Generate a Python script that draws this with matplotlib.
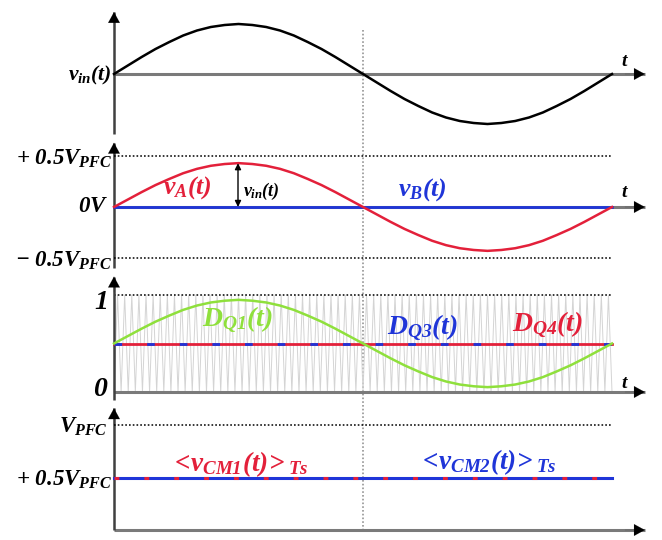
import numpy as np
import matplotlib
matplotlib.use("Agg")
import matplotlib.pyplot as plt
from matplotlib.lines import Line2D
from matplotlib.transforms import blended_transform_factory

# ------------------------------------------------------------
# Data (one line period, 10 degree steps)
# ------------------------------------------------------------
phase_deg = [0, 10, 20, 30, 40, 50, 60, 70, 80, 90, 100, 110, 120, 130,
             140, 150, 160, 170, 180, 190, 200, 210, 220, 230, 240, 250,
             260, 270, 280, 290, 300, 310, 320, 330, 340, 350, 360]
vin_shape = [0.00, 0.17, 0.34, 0.50, 0.64, 0.77, 0.87, 0.94, 0.98, 1.00,
             0.98, 0.94, 0.87, 0.77, 0.64, 0.50, 0.34, 0.17, 0.00,
             -0.17, -0.34, -0.50, -0.64, -0.77, -0.87, -0.94, -0.98, -1.00,
             -0.98, -0.94, -0.87, -0.77, -0.64, -0.50, -0.34, -0.17, 0.00]

vA_amplitude = 0.43        # in units of V_PFC
dq1_amplitude = 0.45       # duty cycle swing around 0.5
duty_mid = 0.5
vcm_level = 0.5            # <v_CM>_Ts = 0.5 V_PFC
carrier_cycles = 70

RED = "#e3203a"
BLUE = "#1f35d8"
GREEN = "#8fe03c"
AXIS_GRAY = "#7a7a7a"

plt.rcParams["mathtext.fontset"] = "custom"
plt.rcParams["mathtext.it"] = "Liberation Serif:italic:bold"
plt.rcParams["mathtext.rm"] = "Liberation Serif:italic:bold"
plt.rcParams["mathtext.bf"] = "Liberation Serif:bold"
plt.rcParams["font.family"] = ["Liberation Serif", "DejaVu Serif"]
plt.rcParams["lines.scale_dashes"] = False

t = np.array(phase_deg) / 360.0
shape = np.array(vin_shape)

W, H = 662, 540
X0, PERIOD = 114, 498      # pixel of t=0 and pixels per period

fig = plt.figure(figsize=(W / 100, H / 100), dpi=100)


def panel(top_px, bottom_px, zero_px, scale_px):
    ax = fig.add_axes([0, 1 - bottom_px / H, 1, (bottom_px - top_px) / H])
    ax.set_xlim(-X0 / PERIOD, (W - X0) / PERIOD)
    ax.set_ylim((zero_px - bottom_px) / scale_px, (zero_px - top_px) / scale_px)
    ax.axis("off")
    return ax


def arrow(ax, start, end, color, lw):
    # axis line in its own colour, black filled head at the end
    ax.plot([start[0], end[0]], [start[1], end[1]], color=color, lw=lw,
            solid_capstyle="butt", clip_on=False)
    back = (end[0] - 0.04 * np.sign(end[0] - start[0]),
            end[1] - 0.16 * np.sign(end[1] - start[1]))
    ax.annotate("", xy=end, xytext=back,
                arrowprops=dict(arrowstyle="-|>,head_length=0.55,head_width=0.3",
                                color="black", lw=0.1,
                                mutation_scale=14, shrinkA=0, shrinkB=0),
                annotation_clip=False)


def label(ax, x, y, s, size, color="black", ha="center"):
    ax.text(x, y, s, fontsize=size, color=color, ha=ha, va="center",
            fontstyle="italic", fontweight="bold")


t_end = 1.066

# ============================================================
# Panel 1: v_in(t)
# ============================================================
ax1 = panel(0, 140, 74, 50)
arrow(ax1, (0, 0), (t_end, 0), AXIS_GRAY, 2.2)
arrow(ax1, (0, -1.2), (0, 1.24), "#404040", 1.8)
ax1.plot(t, shape, color="black", lw=1.8)
label(ax1, -0.006, -0.02, r"$v_{in}(t)$", 15.5, ha="right")
label(ax1, 1.026, 0.24, r"$t$", 14)

# ============================================================
# Panel 2: v_A(t), v_B(t)
# ============================================================
ax2 = panel(140, 272, 207, 102)
arrow(ax2, (0, 0), (t_end, 0), AXIS_GRAY, 2.2)
arrow(ax2, (0, -0.6), (0, 0.63), "#404040", 1.8)
for lvl in (0.5, -0.5):
    ax2.plot([0, 1], [lvl, lvl], color="black", lw=1.1, ls=(0, (1.2, 1.5)))
ax2.plot([0, 1], [0, 0], color=BLUE, lw=2.0)
ax2.plot(t, vA_amplitude * shape, color=RED, lw=1.8)
ax2.annotate("", xy=(0.249, vA_amplitude), xytext=(0.249, 0.0),
             arrowprops=dict(arrowstyle="<|-|>", color="black", lw=1.0,
                             mutation_scale=9, shrinkA=0, shrinkB=0))
label(ax2, -0.004, 0.47, r"$+\ 0.5V_{PFC}$", 16.5, ha="right")
label(ax2, -0.012, 0.0, r"$0V$", 16.5, ha="right")
label(ax2, -0.004, -0.53, r"$-\ 0.5V_{PFC}$", 16.5, ha="right")
label(ax2, 0.147, 0.19, r"$v_A(t)$", 18.5, color=RED)
label(ax2, 0.259, 0.15, r"$v_{in}(t)$", 13, ha="left")
label(ax2, 0.62, 0.17, r"$v_B(t)$", 18.5, color=BLUE)
label(ax2, 1.026, 0.14, r"$t$", 14)

# ============================================================
# Panel 3: duty cycles with PWM carrier
# ============================================================
ax3 = panel(272, 405, 392, 97)
carrier_t = np.linspace(0, 1, 2 * carrier_cycles + 1)
carrier_y = np.tile([0.0, 1.0], carrier_cycles + 1)[:len(carrier_t)]
ax3.plot(carrier_t, carrier_y, color="#d4d4d4", lw=0.7)
ax3.plot([0, 1], [1, 1], color="black", lw=1.1, ls=(0, (1.2, 1.5)))
arrow(ax3, (0, 0), (t_end, 0), AXIS_GRAY, 2.2)
arrow(ax3, (0, -0.08), (0, 1.19), "#404040", 1.8)
ax3.plot([0, 1], [duty_mid, duty_mid], color=RED, lw=2.0)
ax3.plot([0, 1], [duty_mid, duty_mid], color=BLUE, lw=2.0,
         dashes=(5.5, 18), dash_capstyle="butt")
ax3.plot(t, duty_mid + dq1_amplitude * shape, color=GREEN, lw=1.8)
label(ax3, -0.026, 0.92, "1", 20, ha="center")
label(ax3, -0.028, 0.03, "0", 20, ha="center")
label(ax3, 0.249, 0.74, r"$D_{Q1}(t)$", 20, color=GREEN)
label(ax3, 0.62, 0.66, r"$D_{Q3}(t)$", 20, color=BLUE)
label(ax3, 0.871, 0.69, r"$D_{Q4}(t)$", 20, color=RED)
label(ax3, 1.026, 0.09, r"$t$", 14)

# ============================================================
# Panel 4: common-mode voltages
# ============================================================
ax4 = panel(405, 540, 530, 105)
arrow(ax4, (0, 0), (t_end, 0), AXIS_GRAY, 2.2)
arrow(ax4, (0, 0), (0, 1.16), "#404040", 1.8)
ax4.plot([0, 1], [1, 1], color="black", lw=1.1, ls=(0, (1.2, 1.5)))
ax4.plot([0, 1], [vcm_level, vcm_level], color=BLUE, lw=2.2)
ax4.plot([0, 1], [vcm_level, vcm_level], color=RED, lw=2.2,
         dashes=(3.5, 18), dash_capstyle="butt")
label(ax4, -0.012, 0.98, r"$V_{PFC}$", 16.5, ha="right")
label(ax4, -0.004, 0.48, r"$+\ 0.5V_{PFC}$", 16.5, ha="right")
label(ax4, 0.251, 0.63, r"$<\!v_{CM1}(t)\!>_{Ts}$", 19.5, color=RED)
label(ax4, 0.749, 0.65, r"$<\!v_{CM2}(t)\!>_{Ts}$", 19.5, color=BLUE)

# vertical dotted marker at half period, across all panels
trans = blended_transform_factory(ax1.transData, fig.transFigure)
fig.add_artist(Line2D([0.5, 0.5], [1 - 30 / H, 1 - 532 / H],
                      transform=trans, color="#8c8c8c", lw=1.1,
                      ls=(0, (1.2, 1.5)), zorder=0))

fig.savefig("out.png", dpi=100)
